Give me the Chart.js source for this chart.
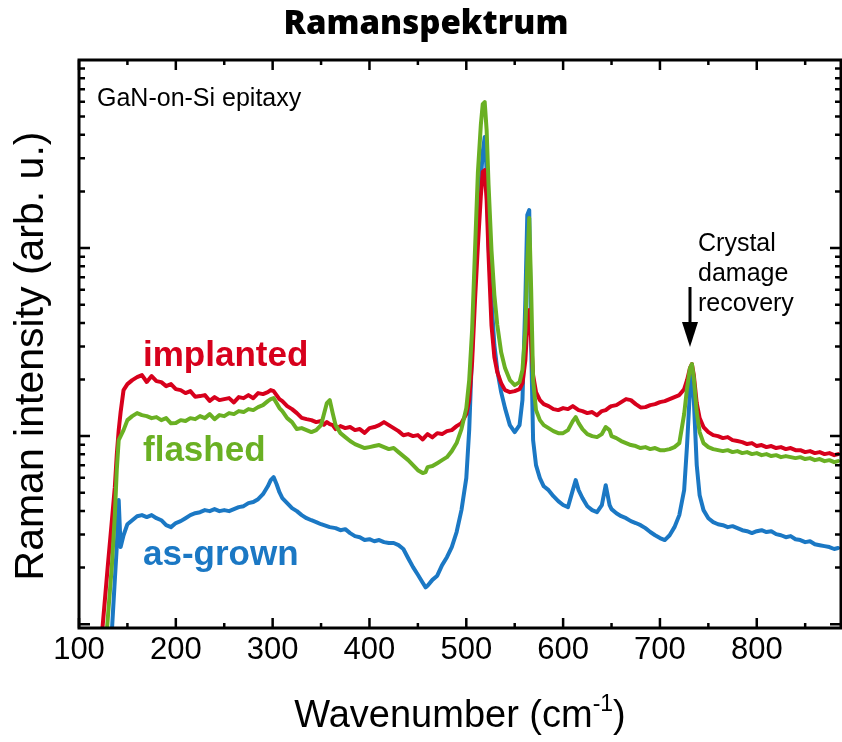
<!doctype html>
<html lang="de">
  <head>
    <meta charset="utf-8">
    <title>Ramanspektrum</title>
    <style>
      * { margin: 0; padding: 0; }
      body { background: #fff; }
      .chartBox { width: 842px; height: 742px; }
    </style>
  </head>
  <body>
    <div class="chartBox">
      <canvas id="myChart" width="842" height="742"></canvas>
    </div>
    <script src="https://cdn.jsdelivr.net/npm/chart.js/dist/chart.umd.min.js"></script>
    <script>
    // wavenumber grid (cm^-1)
    const wavenumbers = [
      120,125,130,134,137,139,141,143,146,150,
      155,160,165,170,175,180,185,190,195,200,
      205,210,215,220,225,230,235,240,245,250,
      255,260,265,270,275,280,285,290,295,298,
      301,304,307,310,315,320,325,330,335,340,
      345,350,353,356,359,362,365,370,375,380,
      385,390,395,400,405,410,415,420,425,430,
      435,440,445,450,455,458,460,465,470,475,
      480,485,490,495,500,503,506,509,512,515,
      517,519,521,523,526,529,532,536,540,545,
      550,555,558,561,563,565,567,569,572,576,
      580,585,590,595,600,605,610,613,616,620,
      625,630,635,640,644,648,650,655,660,665,
      670,675,680,685,690,695,700,705,710,715,
      720,725,728,731,733,735,738,741,745,750,
      755,760,765,770,775,780,785,790,795,800,
      805,810,815,820,825,830,835,840,845,850,
      855,860,865,870,875,880,884
    ];

    // intensities (arb. u.)
    const implanted = [
      54,106,211,357,535,792,1076,1342,1756,1890,
      1985,2059,2111,1940,2085,1960,1937,1844,1890,1777,
      1756,1693,1734,1620,1632,1652,1540,1612,1554,1573,
      1592,1510,1612,1592,1652,1590,1693,1672,1713,1756,
      1734,1652,1573,1535,1444,1392,1325,1250,1231,1216,
      1187,1202,1150,1187,1158,1144,1090,1130,1103,1117,
      1076,1090,1040,1103,1117,1144,1187,1144,1103,1063,
      1010,1025,1000,1012,960,1000,1025,985,1037,1025,
      1063,1076,1130,1173,1309,1554,2475,5290,10374,18910,
      25370,25993,18000,9178,3896,2630,2190,1913,1756,1713,
      1734,1777,1913,2535,3896,4679,3241,2111,1713,1554,
      1479,1444,1392,1375,1409,1392,1444,1409,1375,1358,
      1325,1342,1290,1358,1375,1426,1444,1461,1516,1573,
      1554,1479,1420,1426,1461,1479,1516,1535,1573,1612,
      1652,1777,1985,2299,2415,2111,1498,1246,1117,1050,
      1012,1000,976,988,952,941,929,907,918,885,
      896,874,885,864,874,853,864,842,842,822,
      832,812,822,802,812,792,802
    ];
    const flashed = [
      39,50,112,206,380,659,952,1000,1076,1216,
      1277,1325,1293,1277,1246,1262,1216,1246,1170,1173,
      1216,1202,1246,1231,1277,1246,1309,1230,1293,1277,
      1325,1309,1358,1342,1392,1375,1426,1461,1535,1573,
      1592,1498,1409,1358,1246,1187,1090,1103,1076,1050,
      1076,1144,1309,1498,1554,1325,1144,1037,988,941,
      907,885,864,874,885,896,874,853,864,822,
      783,745,701,659,636,644,684,693,718,745,
      773,832,918,1090,1409,1985,3664,9758,25370,45110,
      58320,59785,42430,21630,9758,5623,3896,2794,2299,1985,
      1867,1937,2244,3664,8322,14440,5978,1985,1375,1216,
      1144,1103,1063,1037,1037,1076,1202,1262,1173,1090,
      1025,1000,988,1025,1117,1076,1000,976,941,918,
      896,885,864,874,853,864,842,842,853,874,
      918,1309,1799,2299,2415,2034,1342,1050,918,874,
      853,842,832,842,822,832,812,822,802,812,
      792,802,783,792,773,783,773,764,773,755,
      764,745,755,736,745,727,736
    ];
    const asGrown = [
      31,39,61,93,172,257,457,257,297,340,
      357,375,380,371,380,366,357,336,328,345,
      353,366,380,389,394,404,399,409,399,404,
      399,409,419,424,440,446,462,491,541,583,
      605,556,503,468,440,414,399,380,366,357,
      349,340,336,332,328,326,324,316,320,305,
      294,290,280,283,276,280,273,270,270,263,
      251,224,201,183,166,157,160,172,181,206,
      227,257,309,404,598,1076,2867,6757,13254,22995,
      32400,38945,25993,10374,5290,3048,2244,1713,1409,1144,
      1050,1144,1554,5290,14983,15925,3048,952,701,598,
      541,516,479,451,430,419,516,583,516,468,
      424,404,394,430,548,430,409,389,375,366,
      353,345,336,324,309,297,287,280,297,328,
      380,516,896,1756,2244,1554,701,485,404,366,
      349,340,336,328,332,324,316,312,305,312,
      316,309,312,301,297,290,294,283,280,273,
      276,266,263,260,257,251,254
    ];

    // axis ticks
    const xMajorTicks = [100, 200, 300, 400, 500, 600, 700, 800];
    const xMinorTicks = [150, 250, 350, 450, 550, 650, 750, 850];
    const yDecades = [100, 1000, 10000];

    const RED = '#d7001c';
    const GREEN = '#6ab023';
    const BLUE = '#1b78c4';
    const SANS = '"Liberation Sans", Arial, sans-serif';

    const toPoints = arr => wavenumbers.map((x, i) => ({ x: x, y: arr[i] }));

    // frame, inward ticks, titles and annotations
    const decorations = {
      id: 'decorations',
      afterDatasetsDraw(chart) {
        const { ctx, chartArea: a, scales: { x, y } } = chart;
        ctx.save();
        ctx.strokeStyle = '#000';
        ctx.fillStyle = '#000';

        // ticks
        ctx.lineWidth = 2.5;
        const xTick = (v, len) => {
          const px = x.getPixelForValue(v);
          ctx.beginPath();
          ctx.moveTo(px, a.bottom); ctx.lineTo(px, a.bottom - len);
          ctx.moveTo(px, a.top); ctx.lineTo(px, a.top + len);
          ctx.stroke();
        };
        xMajorTicks.forEach(v => xTick(v, 10));
        xMinorTicks.forEach(v => xTick(v, 5));
        const yTick = (v, len) => {
          const py = y.getPixelForValue(v);
          if (py < a.top || py > a.bottom) return;
          ctx.beginPath();
          ctx.moveTo(a.left, py); ctx.lineTo(a.left + len, py);
          ctx.moveTo(a.right, py); ctx.lineTo(a.right - len, py);
          ctx.stroke();
        };
        yDecades.forEach(d => {
          yTick(d, 11);
          for (let m = 2; m <= 9; m++) yTick(d * m, 6);
        });

        // frame
        ctx.lineWidth = 3;
        ctx.strokeRect(a.left, a.top, a.right - a.left, a.bottom - a.top);

        // title
        ctx.textAlign = 'center';
        ctx.textBaseline = 'alphabetic';
        ctx.font = '800 33px "Open Sans", sans-serif';
        ctx.fillText('Ramanspektrum', 426, 34);

        // x axis title with superscript
        ctx.textAlign = 'left';
        ctx.font = '38px ' + SANS;
        const part1 = 'Wavenumber (cm';
        const w1 = ctx.measureText(part1).width;
        ctx.font = '23px ' + SANS;
        const sup = '-1';
        const w2 = ctx.measureText(sup).width;
        ctx.font = '38px ' + SANS;
        const w3 = ctx.measureText(')').width;
        const x0 = 460 - (w1 + w2 + w3) / 2;
        ctx.fillText(part1, x0, 727);
        ctx.font = '23px ' + SANS;
        ctx.fillText(sup, x0 + w1, 711);
        ctx.font = '38px ' + SANS;
        ctx.fillText(')', x0 + w1 + w2, 727);

        // y axis title
        ctx.save();
        ctx.translate(43, 356);
        ctx.rotate(-Math.PI / 2);
        ctx.textAlign = 'center';
        ctx.font = '41px ' + SANS;
        ctx.fillText('Raman intensity (arb. u.)', 0, 0);
        ctx.restore();

        // annotations
        ctx.textAlign = 'left';
        ctx.font = '25px ' + SANS;
        ctx.fillText('GaN-on-Si epitaxy', 97, 106);
        ctx.fillText('Crystal', 698, 251);
        ctx.fillText('damage', 698, 281);
        ctx.fillText('recovery', 698, 311);

        ctx.font = 'bold 35px ' + SANS;
        ctx.fillStyle = RED;
        ctx.fillText('implanted', 143, 366);
        ctx.fillStyle = GREEN;
        ctx.fillText('flashed', 143, 461);
        ctx.fillStyle = BLUE;
        ctx.fillText('as-grown', 143, 565);

        // arrow
        ctx.fillStyle = '#000';
        ctx.lineWidth = 3;
        ctx.beginPath();
        ctx.moveTo(690, 287); ctx.lineTo(690, 326);
        ctx.stroke();
        ctx.beginPath();
        ctx.moveTo(682, 322); ctx.lineTo(698, 322); ctx.lineTo(690, 347);
        ctx.closePath();
        ctx.fill();

        ctx.restore();
      }
    };

    const data = {
      datasets: [
        { label: 'flashed', data: toPoints(flashed), borderColor: GREEN, order: 1 },
        { label: 'implanted', data: toPoints(implanted), borderColor: RED, order: 2 },
        { label: 'as-grown', data: toPoints(asGrown), borderColor: BLUE, order: 3 }
      ]
    };

    const config = {
      type: 'line',
      data,
      options: {
        responsive: false,
        animation: false,
        devicePixelRatio: 1,
        layout: { padding: { top: 60, right: 1, left: 0, bottom: 0 } },
        elements: {
          line: { borderWidth: 4, tension: 0, borderJoinStyle: 'round', borderCapStyle: 'round' },
          point: { radius: 0 }
        },
        plugins: {
          legend: { display: false },
          tooltip: { enabled: false }
        },
        scales: {
          x: {
            type: 'linear',
            min: 100,
            max: 887,
            grid: { display: false, drawTicks: false },
            border: { display: false },
            ticks: {
              stepSize: 100,
              includeBounds: false,
              padding: 4,
              color: '#000',
              font: { family: SANS, size: 31 }
            },
            afterFit(scale) { scale.height = 114; }
          },
          y: {
            type: 'logarithmic',
            min: 95.4,
            max: 100000,
            bounds: 'data',
            grid: { display: false, drawTicks: false },
            border: { display: false },
            ticks: { display: false },
            afterFit(scale) { scale.width = 79; }
          }
        }
      },
      plugins: [decorations]
    };

    const myChart = new Chart(document.getElementById('myChart'), config);
    </script>
  </body>
</html>
